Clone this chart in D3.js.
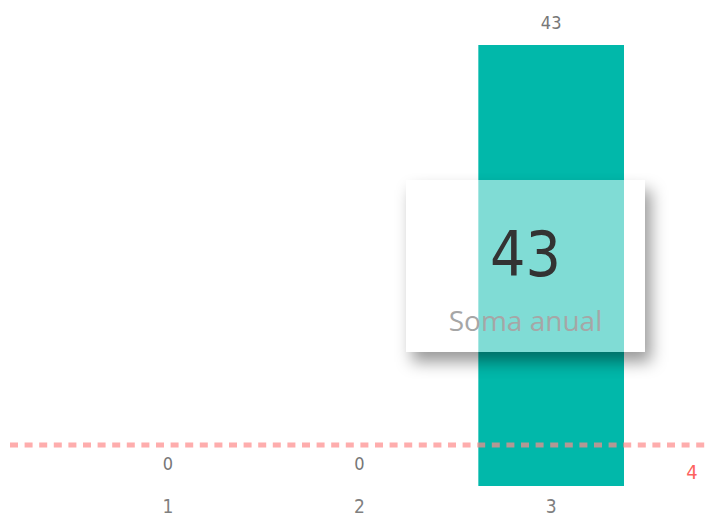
<!DOCTYPE html>
<html>
<head>
<meta charset="utf-8">
<script src="https://cdn.jsdelivr.net/npm/d3@7"></script>
<style>
  body { margin: 0; background: #fff; }
  svg { display: block; }
  .lbl { font-family: "Liberation Sans Narrow", "DejaVu Sans Condensed", sans-serif; }
</style>
</head>
<body>
<svg id="chart"></svg>
<script>
// data
const categories = ['1', '2', '3'];
const values = [0, 0, 43];
const refValue = 4;
const cardLabel = 'Soma anual';

const W = 707, H = 517;
const svg = d3.select('#chart').attr('width', W).attr('height', H);

const card = {x: 406, y: 180, w: 239, h: 172};

const defs = svg.append('defs');
const f = defs.append('filter').attr('id', 'blur')
    .attr('x', '-30%').attr('y', '-30%').attr('width', '160%').attr('height', '170%');
f.append('feGaussianBlur').attr('stdDeviation', 8);

// mask so the shadow only shows outside the card
const mask = defs.append('mask').attr('id', 'cardHole');
mask.append('rect').attr('width', W).attr('height', H).attr('fill', '#fff');
mask.append('rect')
    .attr('x', card.x).attr('y', card.y)
    .attr('width', card.w).attr('height', card.h)
    .attr('fill', '#000');

const x = d3.scaleBand()
    .domain(categories)
    .range([72, 647])
    .paddingInner(0.24)
    .paddingOuter(0.12);

const y = d3.scaleLinear()
    .domain([0, 43])
    .range([486, 45]);

// bars
svg.append('g').selectAll('rect')
  .data(values)
  .join('rect')
    .attr('x', (d, i) => x(categories[i]))
    .attr('y', d => y(d))
    .attr('width', x.bandwidth())
    .attr('height', d => y(0) - y(d))
    .attr('fill', '#01B8AA');

// data labels
svg.append('g').selectAll('text')
  .data(values)
  .join('text')
    .attr('class', 'lbl')
    .attr('x', (d, i) => x(categories[i]) + x.bandwidth() / 2)
    .attr('y', d => y(d) - 16)
    .attr('text-anchor', 'middle')
    .attr('font-size', 18)
    .attr('fill', '#777')
    .text(d => d);

// x axis labels
const xAxis = d3.axisBottom(x).tickSize(0).tickPadding(0);
const xg = svg.append('g').attr('transform', `translate(0,${y(0)})`).call(xAxis);
xg.select('.domain').remove();
xg.selectAll('text')
    .attr('class', 'lbl')
    .attr('y', 27)
    .attr('dy', 0)
    .attr('font-size', 19)
    .attr('fill', '#808080');

// constant line
svg.append('line')
    .attr('x1', 10).attr('x2', W)
    .attr('y1', y(refValue)).attr('y2', y(refValue))
    .attr('stroke', '#FD8A8A')
    .attr('stroke-opacity', 0.7)
    .attr('stroke-width', 5)
    .attr('stroke-dasharray', '8,6.6');

svg.append('text')
    .attr('class', 'lbl')
    .attr('x', 692)
    .attr('y', y(refValue) + 34)
    .attr('text-anchor', 'middle')
    .attr('font-size', 20)
    .attr('fill', '#FD625E')
    .text(refValue);

// card with drop shadow
svg.append('g').attr('mask', 'url(#cardHole)')
  .append('rect')
    .attr('x', card.x + 6).attr('y', card.y + 10)
    .attr('width', card.w).attr('height', card.h)
    .attr('fill', '#000')
    .attr('fill-opacity', 0.4)
    .attr('filter', 'url(#blur)');

const cg = svg.append('g');
cg.append('rect')
    .attr('x', card.x).attr('y', card.y)
    .attr('width', card.w).attr('height', card.h)
    .attr('fill', '#fff')
    .attr('fill-opacity', 0.5);
cg.append('text')
    .attr('class', 'lbl')
    .attr('x', card.x + card.w / 2).attr('y', 276)
    .attr('text-anchor', 'middle')
    .attr('font-size', 62)
    .attr('fill', '#333')
    .text(d3.sum(values));
cg.append('text')
    .attr('x', card.x + card.w / 2).attr('y', 331)
    .attr('text-anchor', 'middle')
    .attr('font-family', '"Open Sans", "Noto Sans", sans-serif')
    .attr('font-size', 28)
    .attr('fill', '#A6A6A6')
    .text(cardLabel);
</script>
</body>
</html>
